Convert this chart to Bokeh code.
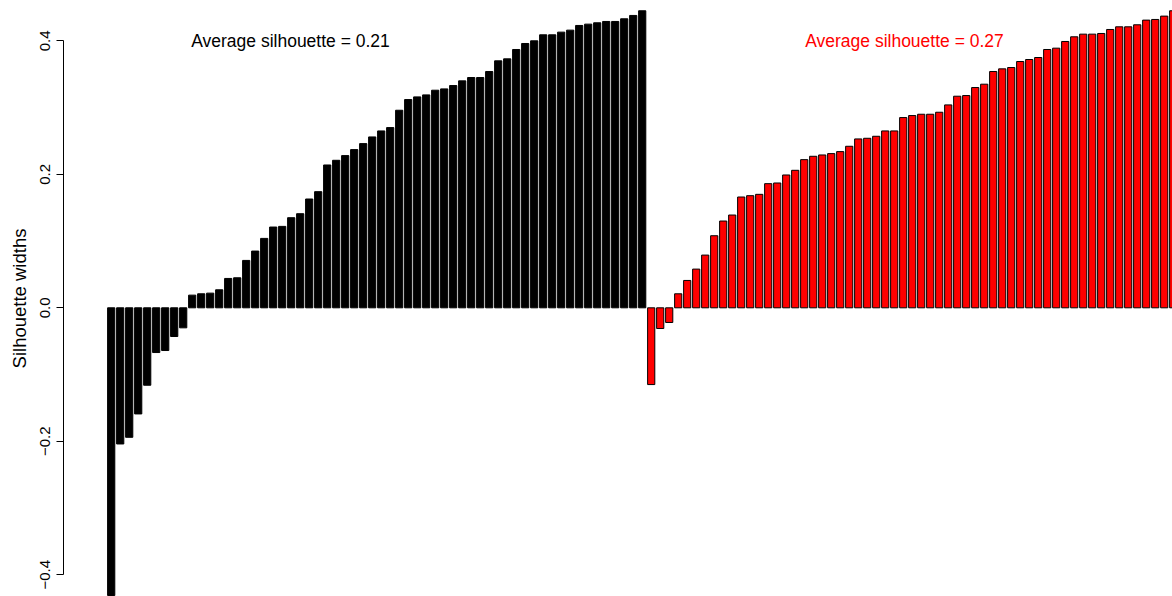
from bokeh.plotting import figure
from bokeh.models import Range1d, FixedTicker, ColumnDataSource
from bokeh.core.properties import value
from bokeh.embed import file_html
from bokeh.resources import INLINE

# ---- data ----
cluster1_widths = [-0.431, -0.204, -0.194, -0.159, -0.116, -0.067, -0.064, -0.043, -0.030,
                   0.019, 0.021, 0.022, 0.027, 0.044, 0.045, 0.071, 0.085, 0.104, 0.121, 0.122,
                   0.135, 0.141, 0.163, 0.174, 0.214, 0.221, 0.228, 0.237, 0.246, 0.256,
                   0.265, 0.270, 0.296, 0.312, 0.316, 0.319, 0.326, 0.328, 0.333, 0.340,
                   0.345, 0.345, 0.354, 0.370, 0.373, 0.387, 0.396, 0.400, 0.409, 0.409,
                   0.413, 0.416, 0.423, 0.425, 0.427, 0.429, 0.429, 0.433, 0.438, 0.445]
cluster2_widths = [-0.115, -0.031, -0.022, 0.021, 0.041, 0.058, 0.079, 0.108, 0.130, 0.139,
                   0.166, 0.168, 0.170, 0.186, 0.187, 0.199, 0.206, 0.222, 0.227, 0.229,
                   0.231, 0.234, 0.242, 0.253, 0.254, 0.257, 0.265, 0.265, 0.285, 0.288,
                   0.290, 0.290, 0.293, 0.304, 0.317, 0.318, 0.330, 0.335, 0.354, 0.358,
                   0.360, 0.369, 0.372, 0.375, 0.387, 0.389, 0.399, 0.406, 0.410, 0.410,
                   0.411, 0.417, 0.421, 0.421, 0.424, 0.431, 0.432, 0.437, 0.445]
cluster_colors = ["#000000", "#FF0000"]
average_labels = ["Average silhouette = 0.21", "Average silhouette = 0.27"]
y_ticks = [-0.4, -0.2, 0.0, 0.2, 0.4]
y_tick_labels = ["\u22120.4", "\u22120.2", "0.0", "0.2", "0.4"]
y_label = "Silhouette widths"

# ---- build ----
n1 = len(cluster1_widths)
n2 = len(cluster2_widths)
src1 = ColumnDataSource(dict(x=list(range(n1)), top=cluster1_widths))
src2 = ColumnDataSource(dict(x=list(range(n1, n1 + n2)), top=cluster2_widths))

p = figure(width=1172, height=596, output_backend="svg", toolbar_location=None,
           x_range=Range1d(-5.3, 117.92), y_range=Range1d(-0.4325, 0.4604),
           x_axis_location=None, min_border_left=63, min_border_right=0,
           min_border_top=0, min_border_bottom=0)
p.outline_line_color = None
p.grid.visible = False
p.background_fill_color = "white"
p.border_fill_color = "white"

p.vbar(x="x", top="top", bottom=0, width=0.8, source=src1,
       fill_color=cluster_colors[0], line_color="black", line_width=1)
p.vbar(x="x", top="top", bottom=0, width=0.8, source=src2,
       fill_color=cluster_colors[1], line_color="black", line_width=1)

label_x = [19.92, 88.14]
label_y = [0.4, 0.4]
p.text(x=label_x, y=label_y, text=average_labels, text_color=cluster_colors,
       text_align="center", text_baseline="middle",
       text_font=value("Liberation Sans"), text_font_size="17.5px")

ax = p.yaxis[0]
ax.ticker = FixedTicker(ticks=y_ticks)
ax.major_label_overrides = {t: l for t, l in zip(y_ticks, y_tick_labels)}
ax.bounds = (-0.4, 0.4)
ax.minor_tick_line_color = None
ax.major_tick_in = 0
ax.major_tick_out = 7
ax.major_label_orientation = "vertical"
ax.major_label_standoff = 6
ax.major_label_text_font = "Liberation Sans"
ax.major_label_text_font_size = "15px"
ax.major_label_text_color = "black"
ax.axis_line_color = "black"
ax.major_tick_line_color = "black"
ax.axis_label = y_label
ax.axis_label_text_font = "Liberation Sans"
ax.axis_label_text_font_size = "18.5px"
ax.axis_label_text_font_style = "normal"
ax.axis_label_text_color = "black"
ax.axis_label_standoff = 8

open("out.html", "w").write(file_html(p, INLINE))
